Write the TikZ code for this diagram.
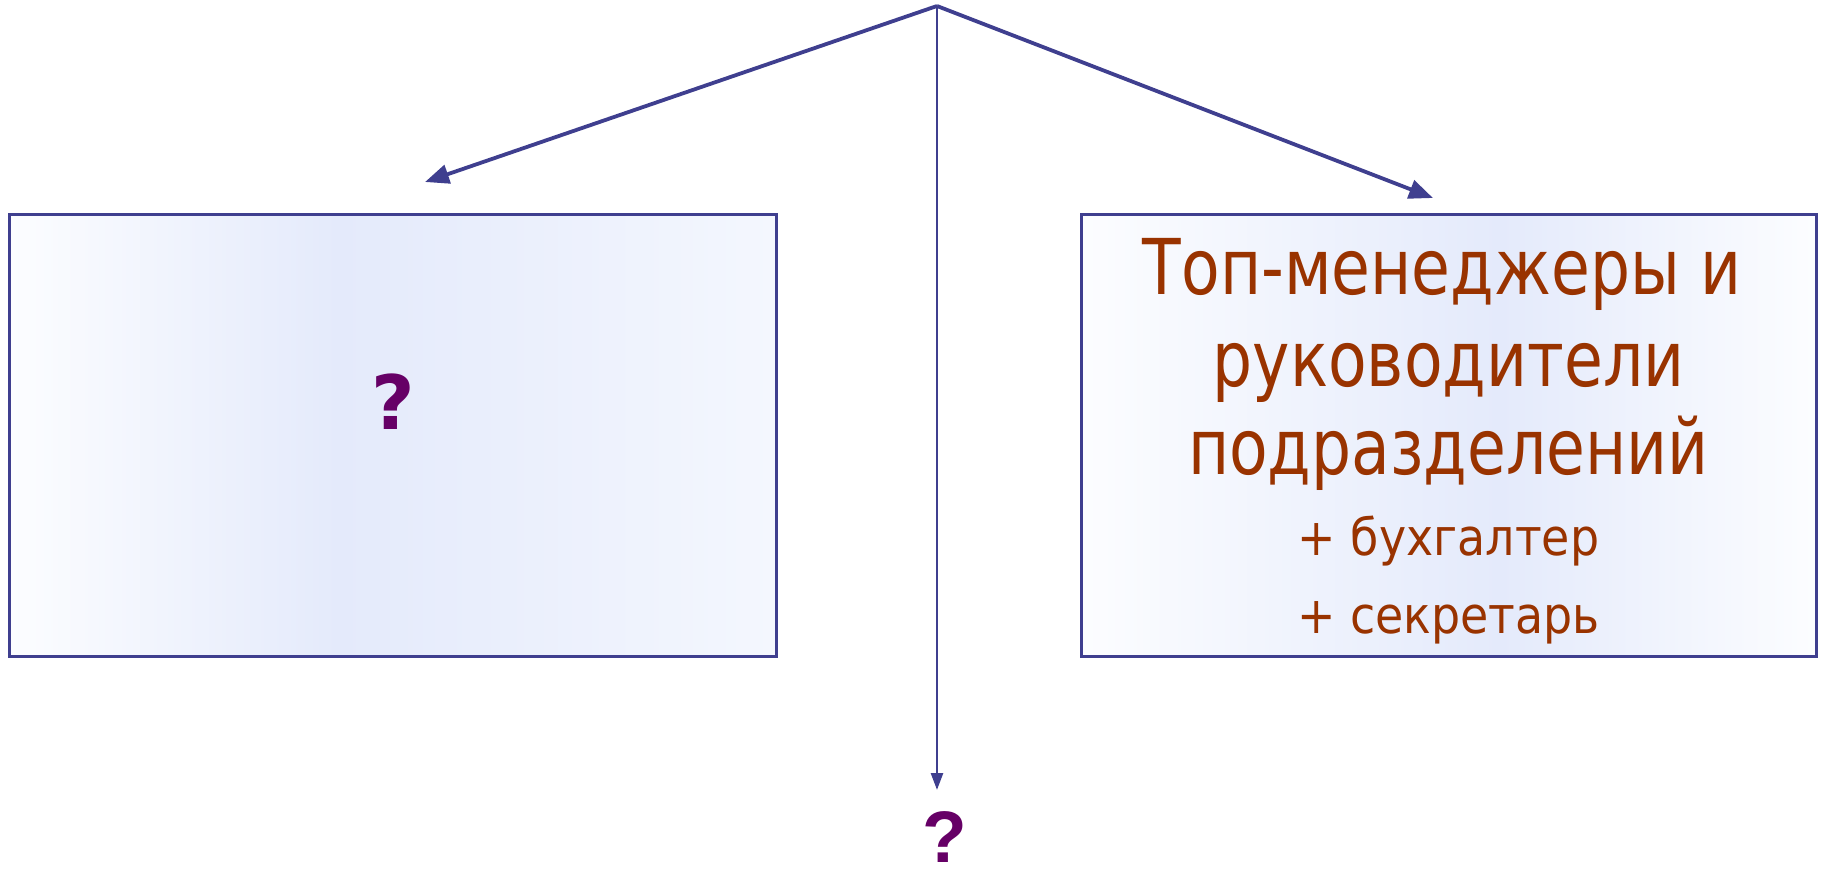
\documentclass[tikz,border=0pt]{standalone}
\usepackage{fontspec}
\usetikzlibrary{arrows.meta}
\newfontfamily\tahfont[FakeStretch=0.82]{DejaVu Sans}
\newfontfamily\tahsmallfont[FakeStretch=0.9]{DejaVu Sans}
\newfontfamily\qleftfont{DejaVu Sans}
\newfontfamily\qarialfont{Liberation Sans}
\definecolor{edge}{RGB}{63,63,143}
\definecolor{txt}{RGB}{153,51,0}
\definecolor{qcol}{RGB}{102,0,102}
\definecolor{g0}{RGB}{252,253,255}
\definecolor{g1}{RGB}{228,234,251}
\definecolor{g2}{RGB}{244,247,254}
\pgfdeclarehorizontalshading{lshade}{100bp}{color(0bp)=(g0); color(25bp)=(g0); color(46.5bp)=(g1); color(75bp)=(g2); color(100bp)=(g2)}
\pgfdeclarehorizontalshading{rshade}{100bp}{color(0bp)=(g0); color(25bp)=(g0); color(53.5bp)=(g1); color(75bp)=(g0); color(100bp)=(g0)}
\tikzset{
  box/.style={draw=edge, line width=3pt, inner sep=0pt, minimum height=441pt},
  arr/.style={draw=edge, line width=3.8pt, -{Triangle[length=24pt,width=19pt]}},
  varr/.style={draw=edge, line width=2.6pt, -{Triangle[length=17pt,width=12pt]}},
  bigtxt/.style={text=txt, inner sep=0pt, anchor=base, font=\tahfont\fontsize{77}{89}\selectfont},
  smalltxt/.style={text=txt, inner sep=0pt, anchor=base, font=\tahsmallfont\fontsize{51}{60}\selectfont},
  qleft/.style={text=qcol, inner sep=0pt, font=\qleftfont\bfseries\fontsize{75}{80}\selectfont},
  qbottom/.style={text=qcol, inner sep=0pt, font=\qarialfont\bfseries\fontsize{73}{80}\selectfont}
}
\begin{document}
\begin{tikzpicture}[x=1pt,y=-1pt]
\useasboundingbox (0,0) rectangle (1824,874);
\node[box, shading=lshade, shading angle=0, minimum width=767pt] (L) at (392.5,435.5) {};
\node[box, shading=rshade, shading angle=0, minimum width=735pt] (R) at (1448.5,435.5) {};
\node[qleft] (qL) at (393,402) {?};
\node[bigtxt] (t1) at (1442,295) {Топ-менеджеры и};
\node[bigtxt] (t2) at (1448.5,387) {руководители};
\node[bigtxt] (t3) at (1448.5,475) {подразделений};
\node[smalltxt] (s1) at (1448.5,555) {+ бухгалтер};
\node[smalltxt] (s2) at (1448.5,633) {+ секретарь};
\node[qbottom] (qB) at (945,837) {?};
\coordinate (top) at (937,6);
\coordinate (lt) at (425,182);
\coordinate (rt) at (1433,198);
\coordinate (bt) at (937,790);
\draw[arr] (top) -- (lt);
\draw[arr] (top) -- (rt);
\draw[varr] (top) -- (bt);
\end{tikzpicture}
\end{document}
